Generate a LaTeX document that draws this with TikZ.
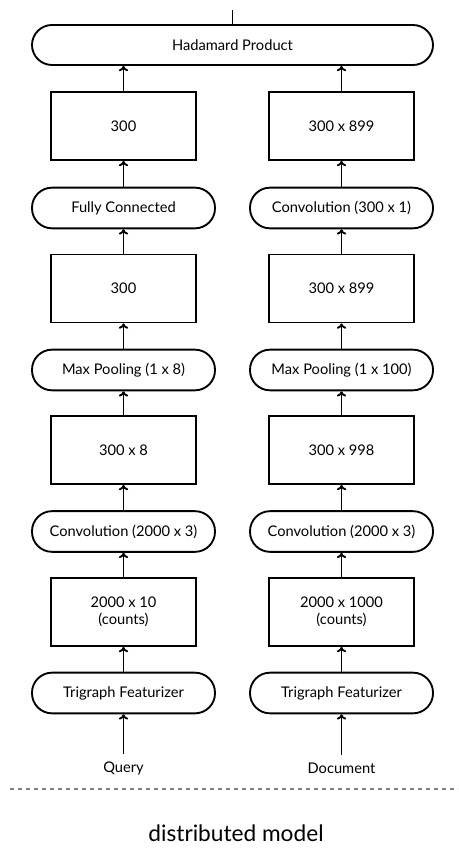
\documentclass[tikz,border=0pt]{standalone}
\usepackage{fontspec}
\setmainfont{Lato}
\usetikzlibrary{arrows.meta}
\begin{document}
\begin{tikzpicture}[x=0.75pt,y=-0.75pt,line width=1.4pt,
		datablock/.style={draw,minimum width=108.75pt,minimum height=51pt,inner sep=0pt,align=center,font=\fontsize{11}{13}\selectfont},
		layerpill/.style={draw,rounded corners=15pt,minimum width=137.25pt,minimum height=30.5pt,inner sep=0pt,font=\fontsize{11}{13}\selectfont},
		flow/.style={-{To[length=4pt,width=7pt]}}]
		\useasboundingbox (0,0) rectangle (458,848);
		\def\xq{123.5};
		\def\xd{341.5};
		% merge
		\node[layerpill,minimum width=300.75pt,minimum height=30pt] (HP) at (232.5,45) {Hadamard Product};
		\coordinate (OUT) at (232.5,10);
		\draw (HP.north) -- (OUT);
		% query side
		\node[datablock] (Q1) at (\xq,126) {300};
		\node[layerpill] (QL1) at (\xq,208) {Fully Connected};
		\node[datablock] (Q2) at (\xq,288.5) {300};
		\node[layerpill] (QL2) at (\xq,370) {Max Pooling (1 x 8)};
		\node[datablock] (Q3) at (\xq,450) {300 x 8};
		\node[layerpill] (QL3) at (\xq,531.5) {Convolution (2000 x 3)};
		\node[datablock] (Q4) at (\xq,612) {2000 x 10\\(counts)};
		\node[layerpill] (QL4) at (\xq,693) {Trigraph Featurizer};
		\node[font=\fontsize{11}{13}\selectfont,inner sep=5pt] (QIN) at (\xq,768) {Query};
		% document side
		\node[datablock] (D1) at (\xd,126) {300 x 899};
		\node[layerpill] (DL1) at (\xd,208) {Convolution (300 x 1)};
		\node[datablock] (D2) at (\xd,288.5) {300 x 899};
		\node[layerpill] (DL2) at (\xd,370) {Max Pooling (1 x 100)};
		\node[datablock] (D3) at (\xd,450) {300 x 998};
		\node[layerpill] (DL3) at (\xd,531.5) {Convolution (2000 x 3)};
		\node[datablock] (D4) at (\xd,612) {2000 x 1000\\(counts)};
		\node[layerpill] (DL4) at (\xd,693) {Trigraph Featurizer};
		\node[font=\fontsize{11}{13}\selectfont,inner sep=5pt] (DIN) at (\xd,768) {Document};
		% arrows
		\foreach \s in {Q,D} {
			\draw[flow] (\s IN.north) -- (\s L4.north |- \s L4.south);
			\draw[flow] (\s L4) -- (\s 4);
			\draw[flow] (\s 4) -- (\s L3);
			\draw[flow] (\s L3) -- (\s 3);
			\draw[flow] (\s 3) -- (\s L2);
			\draw[flow] (\s L2) -- (\s 2);
			\draw[flow] (\s 2) -- (\s L1);
			\draw[flow] (\s L1) -- (\s 1);
			\draw[flow] (\s 1.north) -- (\s 1.north |- HP.south);
		}
		% separator and caption
		\coordinate (SL) at (10,789);
		\coordinate (SR) at (458,789);
		\draw[line width=0.8pt,dashed,gray] (SL) -- (SR);
		\node[font=\fontsize{17}{20}\selectfont,inner sep=1pt] (CAP) at (236,833) {distributed model};
	\end{tikzpicture}
\end{document}
